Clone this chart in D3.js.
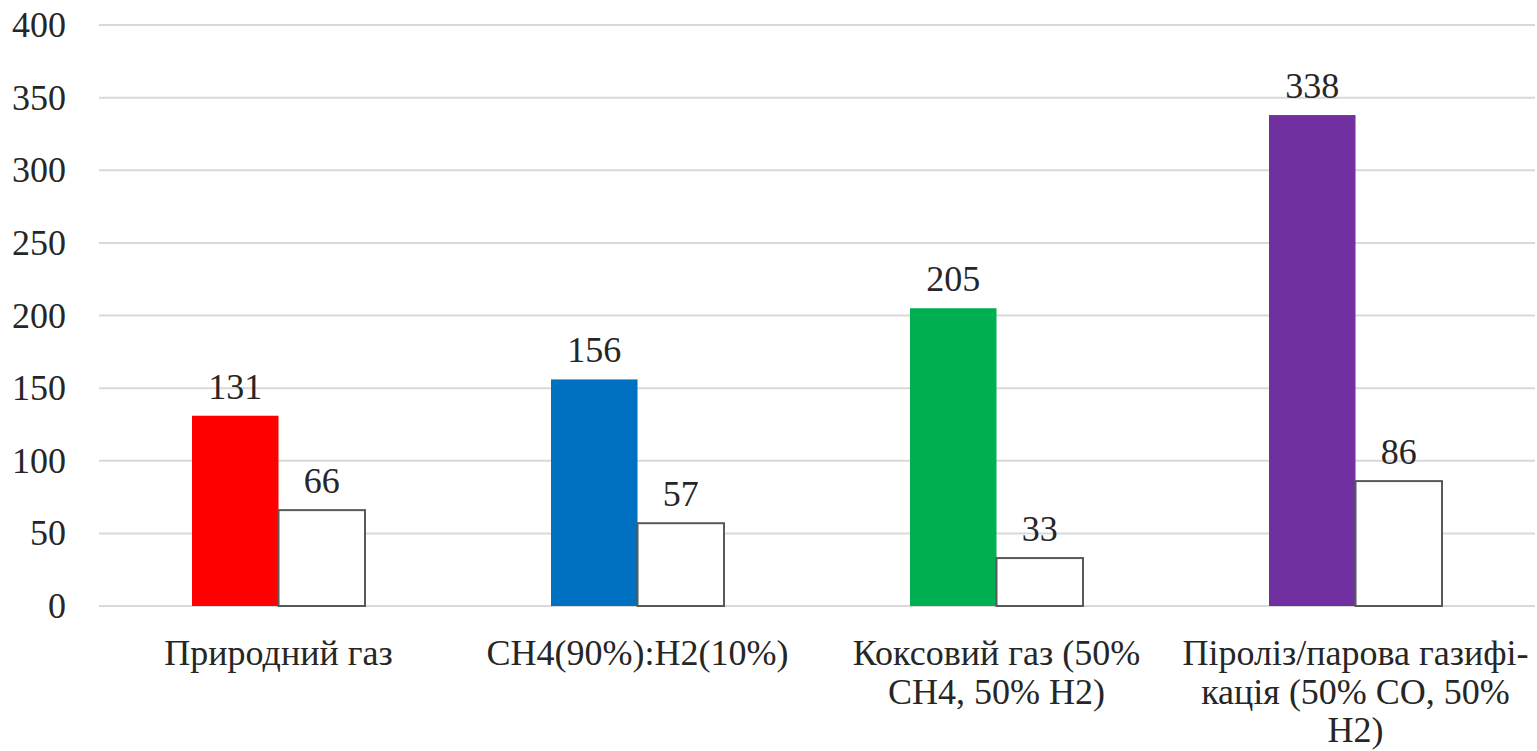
<!DOCTYPE html>
<html>
<head>
<meta charset="utf-8">
<script src="https://cdn.jsdelivr.net/npm/d3@7.9.0/dist/d3.min.js"></script>
<style>
  html, body { margin: 0; padding: 0; background: #fff; }
</style>
</head>
<body>
<svg id="chart" width="1537" height="751" font-family="Liberation Serif"></svg>
<script>
const categories = [
    ['Природний газ'],
    ['CH4(90%):H2(10%)'],
    ['Коксовий газ (50%', 'CH4, 50% H2)'],
    ['Піроліз/парова газифі-', 'кація (50% CO, 50%', 'H2)'],
];
const seriesNames = ['a', 'b'];
const colouredValues = [131, 156, 205, 338];
const whiteValues = [66, 57, 33, 86];
const barColours = ['#ff0000', '#0070c0', '#00b050', '#7030a0'];
const yTicks = [0, 50, 100, 150, 200, 250, 300, 350, 400];

const width = 1537;
const height = 751;
const margin = { top: 25, right: 2, bottom: 145, left: 99 };
const fontSize = 36;
const textColour = '#262626';

const svg = d3.select('#chart');

const x0 = d3.scaleBand()
    .domain(d3.range(categories.length))
    .range([margin.left, width - margin.right])
    .padding(0);

const groupPad = 93;
const x1 = d3.scaleBand()
    .domain(seriesNames)
    .range([groupPad, x0.bandwidth() - groupPad]);

const y = d3.scaleLinear()
    .domain([0, 400])
    .range([height - margin.bottom, margin.top]);

function styleText(sel) {
    return sel
        .style('font-family', 'Liberation Serif')
        .attr('font-size', fontSize)
        .attr('fill', textColour);
}

// grid lines
svg.append('g')
    .selectAll('line')
    .data(yTicks)
    .join('line')
    .attr('x1', margin.left)
    .attr('x2', width - margin.right)
    .attr('y1', d => y(d))
    .attr('y2', d => y(d))
    .attr('stroke', '#d9d9d9')
    .attr('stroke-width', 2);

// y tick labels
svg.selectAll('text.tick')
    .data(yTicks)
    .join('text')
    .attr('class', 'tick')
    .attr('x', 66)
    .attr('y', d => y(d) + 12)
    .attr('text-anchor', 'end')
    .call(styleText)
    .text(d => d);

// bars
colouredValues.forEach((v, i) => {
    svg.append('rect')
        .attr('x', x0(i) + x1('a'))
        .attr('width', x1.bandwidth())
        .attr('y', y(v))
        .attr('height', y(0) - y(v))
        .attr('fill', barColours[i]);
});

whiteValues.forEach((v, i) => {
    svg.append('rect')
        .attr('x', x0(i) + x1('b'))
        .attr('width', x1.bandwidth())
        .attr('y', y(v))
        .attr('height', y(0) - y(v))
        .attr('fill', '#fff')
        .attr('stroke', '#595959')
        .attr('stroke-width', 2);
});

// value labels
colouredValues.forEach((v, i) => {
    svg.append('text')
        .attr('x', x0(i) + x1('a') + x1.bandwidth() / 2)
        .attr('y', y(v) - 17)
        .attr('text-anchor', 'middle')
        .call(styleText)
        .text(v);
});

whiteValues.forEach((v, i) => {
    svg.append('text')
        .attr('x', x0(i) + x1('b') + x1.bandwidth() / 2)
        .attr('y', y(v) - 17)
        .attr('text-anchor', 'middle')
        .call(styleText)
        .text(v);
});

// category labels, one text per line
categories.forEach((lines, i) => {
    lines.forEach((line, j) => {
        svg.append('text')
            .attr('x', x0(i) + x0.bandwidth() / 2)
            .attr('y', 665 + j * 38.5)
            .attr('text-anchor', 'middle')
            .call(styleText)
            .text(line);
    });
});
</script>
</body>
</html>
